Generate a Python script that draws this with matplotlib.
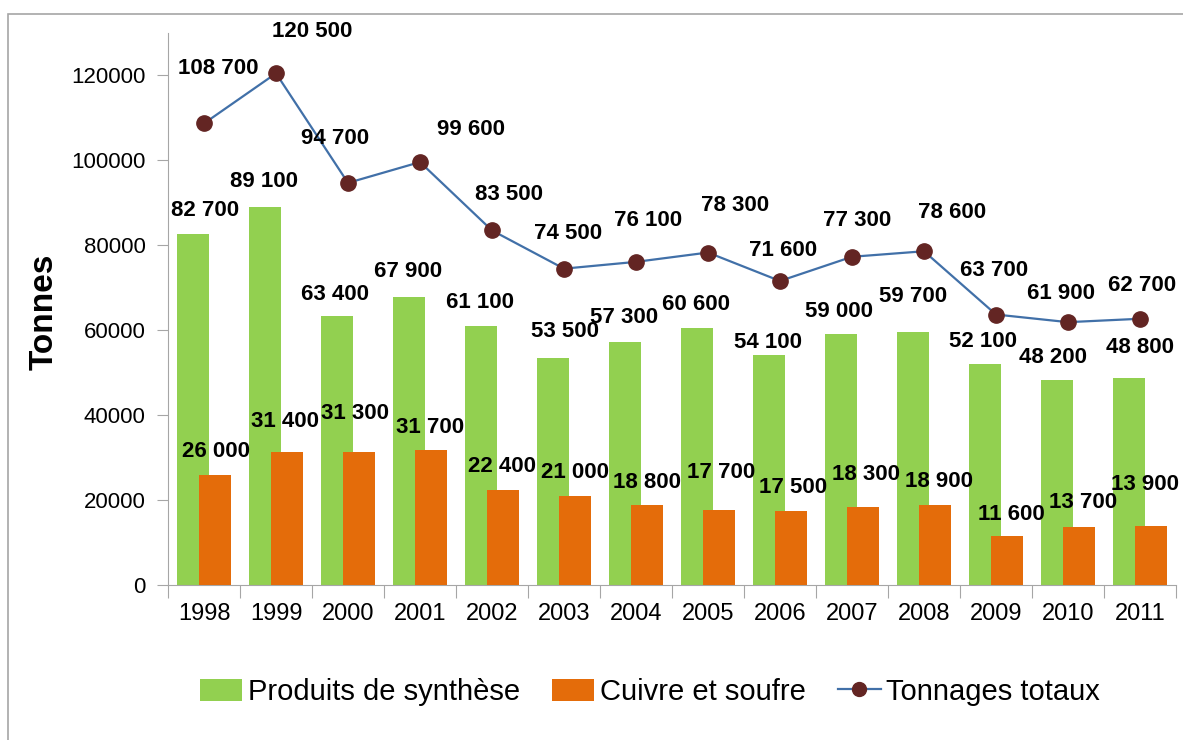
import matplotlib
matplotlib.use("Agg")
import matplotlib.pyplot as plt
import numpy as np
from matplotlib.lines import Line2D
from matplotlib.patches import Patch, Rectangle

plt.rcParams['font.family'] = ['Liberation Sans', 'DejaVu Sans']

# data
years = ['1998', '1999', '2000', '2001', '2002', '2003', '2004',
         '2005', '2006', '2007', '2008', '2009', '2010', '2011']
synthese = [82700, 89100, 63400, 67900, 61100, 53500, 57300,
            60600, 54100, 59000, 59700, 52100, 48200, 48800]
cuivre = [26000, 31400, 31300, 31700, 22400, 21000, 18800,
          17700, 17500, 18300, 18900, 11600, 13700, 13900]
totaux = [108700, 120500, 94700, 99600, 83500, 74500, 76100,
          78300, 71600, 77300, 78600, 63700, 61900, 62700]

# label offsets in pixels (dx, dy) from category centre / value
off_syn = [(1, 23), (-12, 25), (-13, 21), (-12, 25), (-12, 23), (1, 26), (-12, 24),
           (-12, 23), (-12, 13), (-13, 23), (-11, 35), (-13, 22), (-15, 23), (0, 30)]
off_cui = [(12, 23), (9, 30), (7, 39), (10, 23), (10, 23), (11, 23), (11, 23),
           (13, 37), (13, 23), (14, 33), (15, 23), (15, 21), (15, 24), (5, 41)]
off_tot = [(14, 55), (36, 42), (-13, 44), (51, 33), (17, 36), (4, 35), (12, 41),
           (27, 47), (3, 30), (5, 36), (28, 39), (-2, 44), (-7, 29), (2, 33)]

green = '#92D050'
orange = '#E46C0A'
line_col = '#4170A8'
marker_col = '#632523'

fig = plt.figure(figsize=(11.83, 7.40), dpi=100)
fig.patches.append(Rectangle((8 / 1183, -0.01), 1.0, 1 - 14 / 740 + 0.01,
                             transform=fig.transFigure, fill=False,
                             edgecolor='#A6A6A6', linewidth=1.2))
ax = fig.add_axes([168 / 1183, 1 - 585 / 740, 1008 / 1183, 552 / 740])

x = np.arange(len(years))
w = 0.444
ax.bar(x - 0.153, synthese, width=w, color=green, zorder=2)
ax.bar(x + 0.153, cuivre, width=w, color=orange, zorder=3)
ax.plot(x, totaux, color=line_col, linewidth=1.6, marker='o', markersize=11,
        markerfacecolor=marker_col, markeredgecolor=marker_col, zorder=4)


def fmt(v):
    return f"{v:,}".replace(',', ' ')


for vals, offs in ((synthese, off_syn), (cuivre, off_cui), (totaux, off_tot)):
    for i, (v, (dx, dy)) in enumerate(zip(vals, offs)):
        ax.annotate(fmt(v), xy=(i, v), xytext=(dx, dy), textcoords='offset pixels',
                    ha='center', va='center', fontsize=16, fontweight='bold',
                    color='black', zorder=5, annotation_clip=False)

ax.set_xlim(-0.5, len(years) - 0.5)
ax.set_ylim(0, 130000)
ax.set_yticks(np.arange(0, 120001, 20000))
ax.set_yticklabels([str(t) for t in range(0, 120001, 20000)])
ax.set_xticks(np.arange(-0.5, len(years), 1.0))
ax.set_xticklabels([])
ax.set_xticks(x, minor=True)
ax.set_xticklabels(years, minor=True)
ax.tick_params(axis='x', which='major', length=9, color='#A6A6A6', direction='out')
ax.tick_params(axis='x', which='minor', length=0, pad=13, labelsize=17)
ax.tick_params(axis='y', length=8, color='#A6A6A6', pad=8, labelsize=16)

for s in ('top', 'right'):
    ax.spines[s].set_visible(False)
for s in ('left', 'bottom'):
    ax.spines[s].set_color('#A6A6A6')

fig.text(44 / 1183, 1 - 312 / 740, 'Tonnes', rotation=90, ha='center', va='center',
         fontsize=24, fontweight='bold')

handles = [Patch(facecolor=green, label='Produits de synthèse'),
           Patch(facecolor=orange, label='Cuivre et soufre'),
           Line2D([], [], color=line_col, linewidth=1.6, marker='o', markersize=10,
                  markerfacecolor=marker_col, markeredgecolor=marker_col,
                  label='Tonnages totaux')]
fig.legend(handles=handles, loc='center', bbox_to_anchor=(650 / 1183, 1 - 692 / 740),
           ncol=3, frameon=False, fontsize=21, handlelength=1.45, handleheight=0.8,
           handletextpad=0.2, columnspacing=1.1)

fig.savefig('out.png', dpi=100)
